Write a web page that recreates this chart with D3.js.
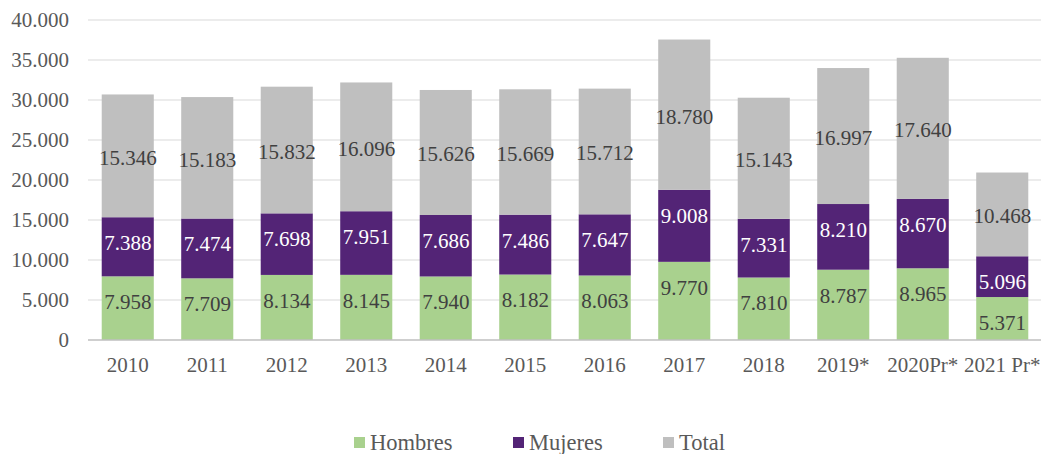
<!DOCTYPE html>
<html>
<head>
<meta charset="utf-8">
<script src="https://cdn.jsdelivr.net/npm/d3@7"></script>
<style>
  body { margin: 0; background: #fff; }
  svg text { font-family: "Liberation Serif", "Times New Roman", serif; }
</style>
</head>
<body>
<div id="chart"></div>
<script>
// data
var years = ["2010", "2011", "2012", "2013", "2014", "2015", "2016", "2017", "2018", "2019*", "2020Pr*", "2021 Pr*"];
var hombres = [7958, 7709, 8134, 8145, 7940, 8182, 8063, 9770, 7810, 8787, 8965, 5371];
var mujeres = [7388, 7474, 7698, 7951, 7686, 7486, 7647, 9008, 7331, 8210, 8670, 5096];
var total = [15346, 15183, 15832, 16096, 15626, 15669, 15712, 18780, 15143, 16997, 17640, 10468];
var yTicks = [0, 5000, 10000, 15000, 20000, 25000, 30000, 35000, 40000];
var seriesNames = ["Hombres", "Mujeres", "Total"];

var width = 1041, height = 454;
var colors = ["#a9d18e", "#532476", "#bfbfbf"];
var labelColors = ["#404040", "#ffffff", "#404040"];

var svg = d3.select("#chart").append("svg")
  .attr("width", width)
  .attr("height", height)
  .attr("font-family", "'Liberation Serif', 'Times New Roman', serif");

var x = d3.scaleBand()
  .domain(years)
  .range([88, 1042])
  .paddingInner(0.345)
  .paddingOuter(0.1725);

var y = d3.scaleLinear()
  .domain([0, 40000])
  .range([340, 20]);

var fmt = function(v) { return d3.format(",")(v).replace(/,/g, "."); };

// gridlines
svg.append("g").selectAll("line")
  .data(yTicks.slice(1))
  .enter().append("line")
  .attr("x1", 88).attr("x2", 1042)
  .attr("y1", function(d) { return y(d); })
  .attr("y2", function(d) { return y(d); })
  .attr("stroke", "#d9d9d9")
  .attr("stroke-width", 1);

// y tick labels
svg.append("g").selectAll("text")
  .data(yTicks)
  .enter().append("text")
  .attr("x", 69)
  .attr("y", function(d) { return y(d); })
  .attr("dy", "0.33em")
  .attr("text-anchor", "end")
  .attr("font-size", 21)
  .attr("fill", "#595959")
  .text(function(d) { return d === 0 ? "0" : fmt(d); });

// stacked data
var rows = years.map(function(yr, i) {
  return { year: yr, Hombres: hombres[i], Mujeres: mujeres[i], Total: total[i] };
});
var stacked = d3.stack().keys(seriesNames)(rows);

var layers = svg.append("g").selectAll("g")
  .data(stacked)
  .enter().append("g");

layers.selectAll("rect")
  .data(function(d, k) { return d.map(function(p) { return { p: p, k: k }; }); })
  .enter().append("rect")
  .attr("x", function(d) { return x(d.p.data.year); })
  .attr("width", x.bandwidth())
  .attr("y", function(d) { return y(d.p[1]); })
  .attr("height", function(d) { return y(d.p[0]) - y(d.p[1]); })
  .attr("fill", function(d) { return colors[d.k]; });

// labels: lower two series sit a fixed distance under the segment top, Total is centred
layers.selectAll("text")
  .data(function(d, k) { return d.map(function(p) { return { p: p, k: k, key: seriesNames[k] }; }); })
  .enter().append("text")
  .attr("x", function(d) { return x(d.p.data.year) + x.bandwidth() / 2; })
  .attr("y", function(d) {
    if (d.k < 2) return y(d.p[1]) + 26;
    return (y(d.p[0]) + y(d.p[1])) / 2 + 2;
  })
  .attr("dy", "0.33em")
  .attr("text-anchor", "middle")
  .attr("font-size", 21)
  .attr("fill", function(d) { return labelColors[d.k]; })
  .text(function(d) { return fmt(d.p.data[d.key]); });

// x axis line
svg.append("line")
  .attr("x1", 88).attr("x2", 1042)
  .attr("y1", y(0)).attr("y2", y(0))
  .attr("stroke", "#bfbfbf")
  .attr("stroke-width", 1.5);

// x labels
svg.append("g").selectAll("text")
  .data(years)
  .enter().append("text")
  .attr("x", function(d) { return x(d) + x.bandwidth() / 2; })
  .attr("y", 372)
  .attr("text-anchor", "middle")
  .attr("font-size", 21)
  .attr("fill", "#595959")
  .text(function(d) { return d; });

// legend
var legendX = [354, 513, 663];
var legend = svg.append("g").selectAll("g")
  .data(seriesNames)
  .enter().append("g")
  .attr("transform", function(d, i) { return "translate(" + legendX[i] + ",437)"; });
legend.append("rect")
  .attr("width", 11).attr("height", 11)
  .attr("fill", function(d, i) { return colors[i]; });
legend.append("text")
  .attr("x", 16)
  .attr("y", 13)
  .attr("font-size", 22.5)
  .attr("fill", "#595959")
  .text(function(d) { return d; });
</script>
</body>
</html>
